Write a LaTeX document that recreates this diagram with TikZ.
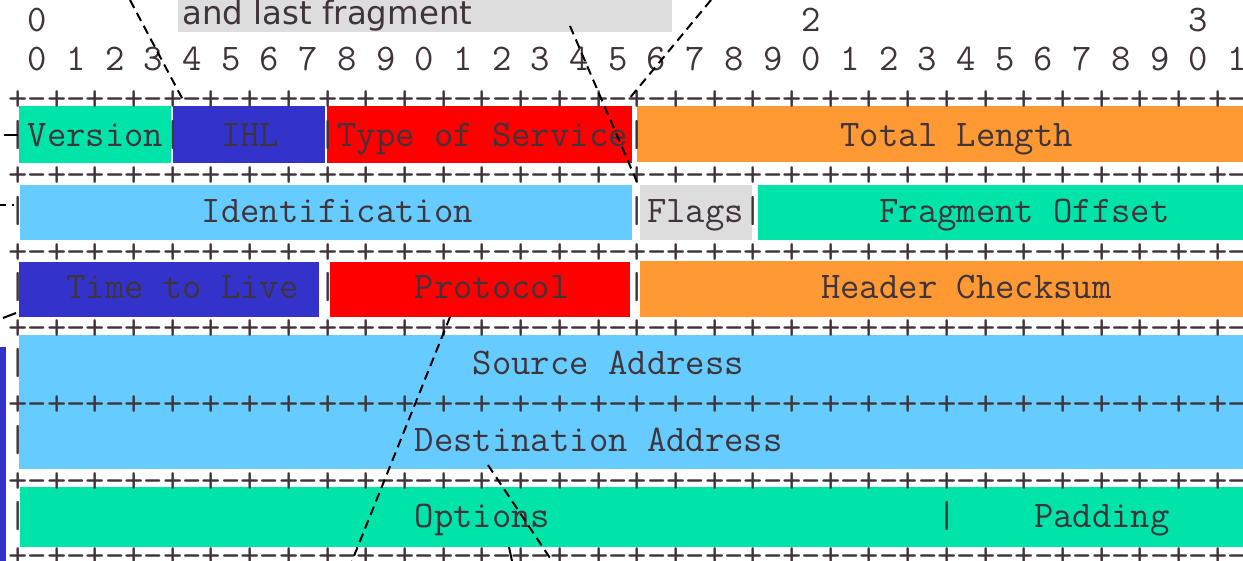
\documentclass[tikz,border=0pt]{standalone}
\usepackage{fontspec}
\newfontfamily\nhanfont{DejaVu Sans}

% Các màu dùng trong hình
\definecolor{mauxanhla}{HTML}{00E4AA}
\definecolor{mauxanhduong}{HTML}{3333CC}
\definecolor{maudo}{HTML}{FF0000}
\definecolor{maucam}{HTML}{FF9933}
\definecolor{mauxanhnhat}{HTML}{66CCFF}
\definecolor{mauxam}{HTML}{DDDDDD}
\definecolor{mauchu}{HTML}{40343C}

% Khoảng trắng rộng #1 ký tự (phông chữ đều)
\newcommand\kc[1]{\hskip#1\fontcharwd\font`0\relax}
\newcommand\vach{+-+-+-+-+-+-+-+-+-+-+-+-+-+-+-+-+-+-+-+-+-+-+-+-+-+-+-+-+-+-+-+-+}

\tikzset{
    dong/.style={anchor=base west, inner sep=0pt, text=mauchu,
        font=\ttfamily\fontsize{18.79}{22}\selectfont},
    net/.style={black, line width=1pt, dash pattern=on 4.5pt off 2.8pt}
}

\begin{document}
\begin{tikzpicture}[x=0.5pt, y=-0.5pt]
    % Khung hình 1243 x 561 (đơn vị: điểm ảnh)
    \useasboundingbox (0,0) rectangle (1243,561);
    \clip (0,0) rectangle (1243,561);

    % Thanh màu xanh ở mép trái
    \fill[mauxanhduong] (0,347) rectangle (6,561);

    % Hàng 1: Version, IHL, Type of Service, Total Length
    \fill[mauxanhla] (19,106) rectangle (171,163);
    \fill[mauxanhduong] (173,106) rectangle (325,163);
    \fill[maudo] (327,106) rectangle (632,163);
    \fill[maucam] (637,106) rectangle (1243,162);

    % Hàng 2: Identification, Flags, Fragment Offset
    \fill[mauxanhnhat] (20,185) rectangle (632,240);
    \fill[mauxam] (640,185) rectangle (752,240);
    \fill[mauxanhla] (758,185) rectangle (1243,240);

    % Hàng 3: Time to Live, Protocol, Header Checksum
    \fill[mauxanhduong] (19,262) rectangle (319,317);
    \fill[maudo] (330,262) rectangle (630,317);
    \fill[maucam] (640,261) rectangle (1243,317);

    % Hàng 4, 5: địa chỉ nguồn và đích
    \fill[mauxanhnhat] (19,335) rectangle (1243,469);

    % Hàng 6: Options, Padding
    \fill[mauxanhla] (20,487) rectangle (1243,547);

    % Các dòng chữ ASCII (mỗi ký tự rộng 19.32, mỗi dòng cao 38.1)
    \node[dong] (so1) at (8,32) {\kc{1}0\kc{39}2\kc{19}3};
    \node[dong] (so2) at (8,70.1) {\kc{1}0 1 2 3 4 5 6 7 8 9 0 1 2 3 4 5 6 7 8 9 0 1 2 3 4 5 6 7 8 9 0 1};
    \node[dong] (v1) at (8,111) {\vach};
    \node[dong] (h1) at (8,146.3) {|Version|\kc{2}IHL\kc{2}|Type of Service|\kc{10}Total Length\kc{9}|};
    \node[dong] (v2) at (8,187) {\vach};
    \node[dong] (h2) at (8,222.5) {|\kc{9}Identification\kc{8}|Flags|\kc{6}Fragment Offset\kc{4}|};
    \node[dong] (v3) at (8,263.5) {\vach};
    \node[dong] (h3) at (8,298.7) {|\kc{2}Time to Live\kc{1}|\kc{4}Protocol\kc{3}|\kc{9}Header Checksum\kc{7}|};
    \node[dong] (v4) at (8,339.5) {\vach};
    \node[dong] (h4) at (8,374.9) {|\kc{23}Source Address\kc{26}|};
    \node[dong] (v5) at (8,415.5) {\vach};
    \node[dong] (h5) at (8,451.1) {|\kc{20}Destination Address\kc{24}|};
    \node[dong] (v6) at (8,492) {\vach};
    \node[dong] (h6) at (8,527.3) {|\kc{20}Options\kc{20}|\kc{4}Padding\kc{4}|};
    \node[dong] (v7) at (8,567.5) {\vach};

    % Ô nhãn màu xám ở trên cùng
    \fill[mauxam] (178,0) rectangle (672,32);
    \node[anchor=base west, inner sep=0pt, text=mauchu,
        font=\nhanfont\fontsize{16.2}{19}\selectfont] (nhan) at (182,25) {and last fragment};

    % Các đường nét đứt
    \coordinate (A1) at (130,0);   \coordinate (A2) at (183,100);
    \coordinate (B1) at (570,26);  \coordinate (B2) at (637,182);
    \coordinate (C1) at (711,0);   \coordinate (C2) at (629,99);
    \coordinate (D1) at (450,317); \coordinate (D2) at (352,561);
    \coordinate (E1) at (488,465); \coordinate (E2) at (552,561);
    \coordinate (F1) at (509,547); \coordinate (F2) at (512,561);
    \draw[net] (A1) -- (A2);
    \draw[net] (B1) -- (B2);
    \draw[net] (C1) -- (C2);
    \draw[net] (D1) -- (D2);
    \draw[net] (E1) -- (E2);
    \draw[net, solid] (F1) -- (F2);

    % Mẩu nét đứt ở mép trái
    \draw[net, solid] (4,135) -- (18,135);
    \draw[net, solid] (0,205) -- (6,205);
    \draw[net, solid] (12,205) -- (14,205);
    \draw[net, solid] (3,318) -- (16,313);
\end{tikzpicture}
\end{document}
